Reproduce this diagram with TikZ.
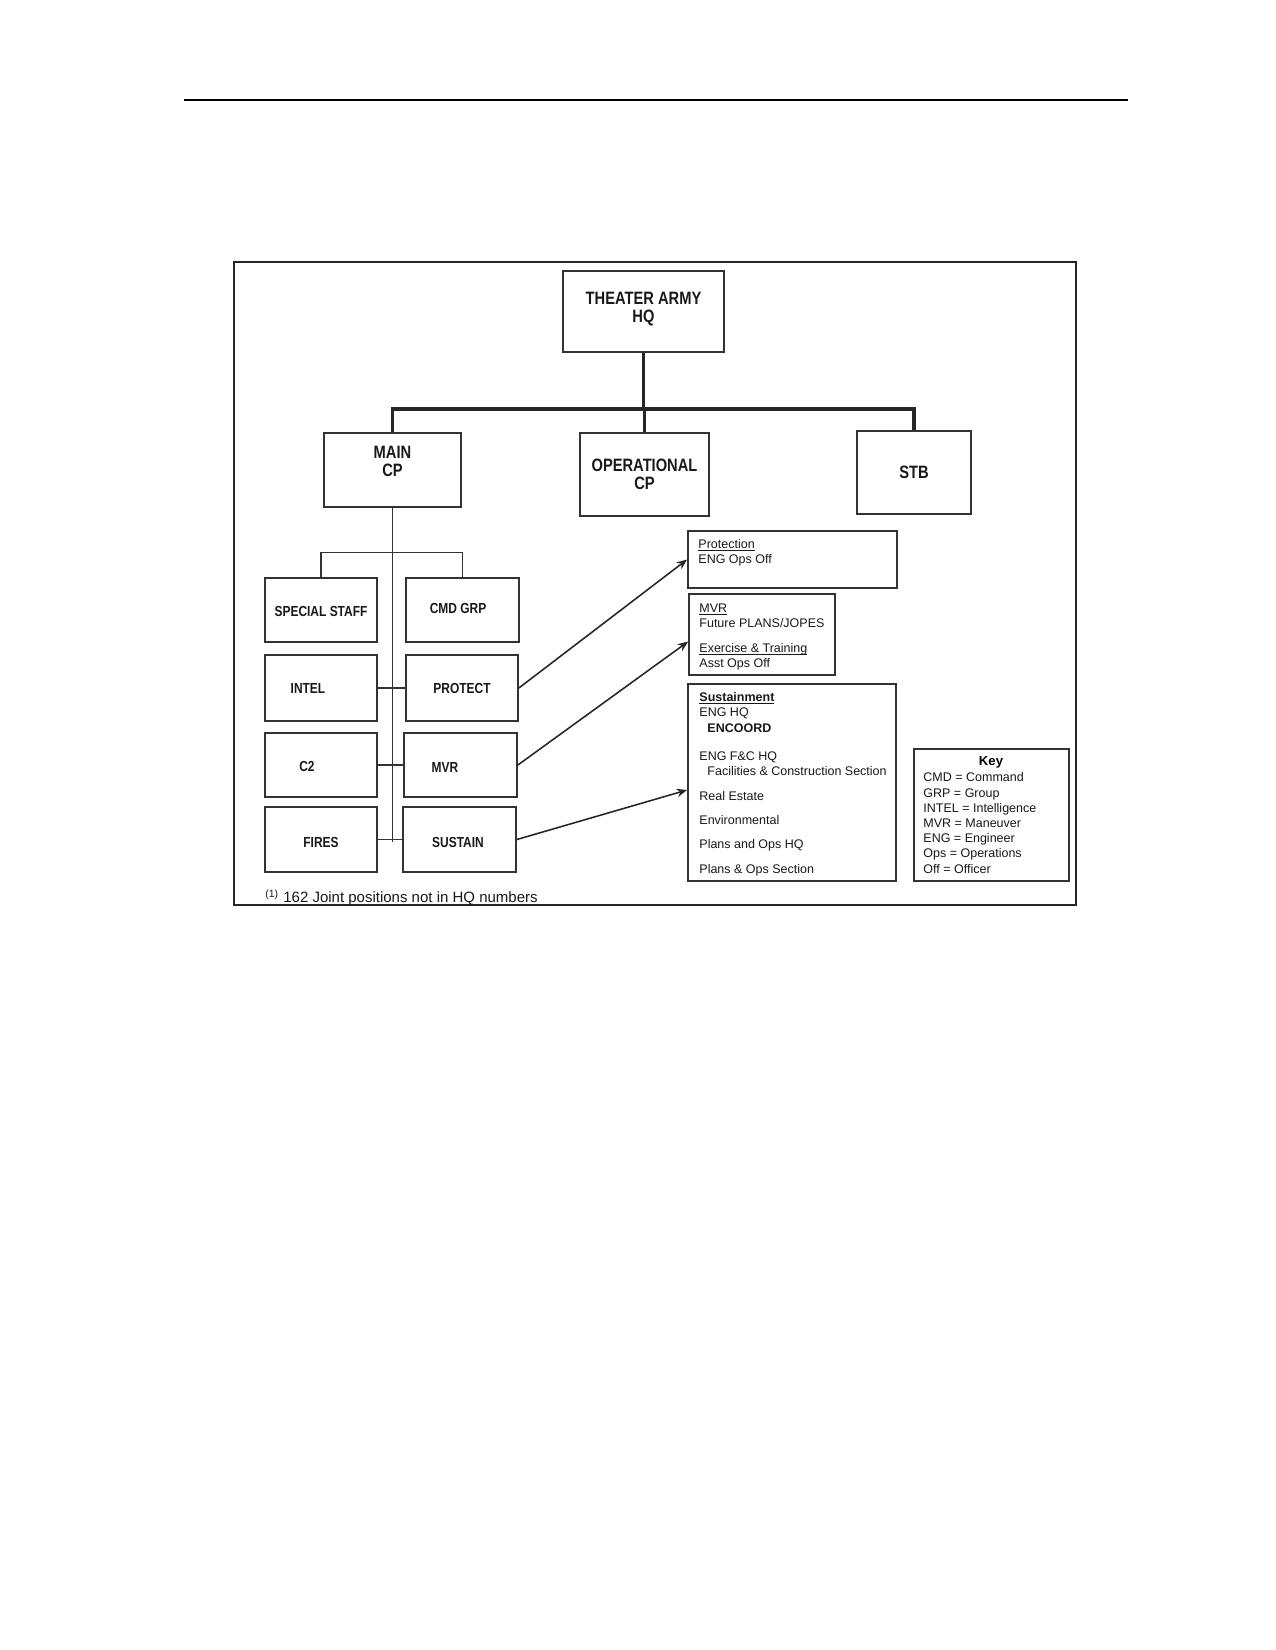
\documentclass[tikz,border=0pt]{standalone}
\usepackage{fontspec}
\setmainfont{Liberation Sans}
\newfontfamily\nrw[FakeStretch=0.82]{Liberation Sans}
\usetikzlibrary{arrows.meta,calc}
\newcommand\uln[1]{\setbox0=\hbox{#1}\rlap{\rule[-0.9pt]{\wd0}{0.4pt}}\box0}
\tikzset{
  px/.style 2 args={minimum width={#1*0.48pt}, minimum height={#2*0.48pt}},
  box/.style={draw=black!80, line width=0.85pt, rectangle, inner sep=0pt},
  bigt/.style={inner sep=0pt, align=center, font=\nrw\bfseries\fontsize{8.6}{8.7}\selectfont, text=black!90},
  midt/.style={inner sep=0pt, align=center, font=\nrw\bfseries\fontsize{7}{8}\selectfont, text=black!90},
  smt/.style={inner sep=0pt, anchor=base west, font=\fontsize{6}{7}\selectfont, text=black!90},
  bus/.style={line width=1.8pt, black!85, line join=miter},
  thin/.style={line width=0.55pt, black!80},
  arr/.style={line width=0.75pt, black!85, -{Stealth[length=5pt,width=4pt]}},
}
\begin{document}
\begin{tikzpicture}[x=0.48pt,y=-0.48pt]
\useasboundingbox (0,0) rectangle (1275,1650);
\fill[white] (0,0) rectangle (1275,1650);
% header rule
\draw[line width=1.3pt, black] (184,100) -- (1128,100);
% frame
\draw[line width=1.1pt, black!85] (234,262) rectangle (1076,905);

% top level boxes
\node[box, px={161}{81}] (hq) at (643.5,311.5) {};
\node[bigt] (hqt) at (643.5,309) {THEATER ARMY\\HQ};
\node[box, px={137}{74}] (main) at (392.5,470) {};
\node[bigt] (maint) at (392.5,461) {MAIN\\CP};
\node[box, px={129}{83}] (opcp) at (644.5,474.5) {};
\node[bigt] (opcpt) at (644.5,474) {OPERATIONAL\\CP};
\node[box, px={114}{83}] (stb) at (914,472.5) {};
\node[bigt] (stbt) at (914,472) {STB};

% bus
\coordinate (busy) at (0,409);
\draw[bus] (hq.south) -- (hq.south |- busy);
\draw[bus] (main.north) |- (stb.north |- busy) -- (stb.north);
\draw[bus] (opcp.north) -- (opcp.north |- busy);

% lower left boxes
\node[box, px={112}{64}] (sp) at (321,610) {};
\node[midt] (spt) at (321,611) {SPECIAL STAFF};
\node[box, px={113}{64}] (cmd) at (462.5,610) {};
\node[midt] (cmdt) at (458,608) {CMD GRP};
\node[box, px={112}{66}] (intel) at (321,688) {};
\node[midt] (intelt) at (308,688) {INTEL};
\node[box, px={112}{66}] (prot) at (462,688) {};
\node[midt] (prott) at (462,688) {PROTECT};
\node[box, px={112}{64}] (c2) at (321,765) {};
\node[midt] (c2t) at (307,766) {C2};
\node[box, px={113}{64}] (mvr) at (460.5,765) {};
\node[midt] (mvrt) at (445,767) {MVR};
\node[box, px={112}{65}] (fires) at (321,839.5) {};
\node[midt] (firest) at (321,842) {FIRES};
\node[box, px={113}{65}] (sust) at (459.5,839.5) {};
\node[midt] (sustt) at (458,842) {SUSTAIN};

% lower connectors
\coordinate (spineend) at (392.5,842);
\draw[thin] (main.south) -- (spineend);
\draw[thin] (sp.north) -- ++(0,-25) -| (cmd.north);
\draw[thin] (intel.east) -- (prot.west);
\draw[thin] (c2.east) -- (mvr.west);
\draw[thin] (fires.east) -- (sust.west);

% right boxes
\node[box, px={209}{57}] (pb) at (792.5,559.5) {};
\node[smt] (pb1) at (698,548.5) {\uln{Protection}};
\node[smt] (pb2) at (698,563.5) {ENG Ops Off};

\node[box, px={146}{81}] (mb) at (762,634.5) {};
\node[smt] (mb1) at (699,612.5) {\uln{MVR}};
\node[smt] (mb2) at (699,627.5) {Future PLANS/JOPES};
\node[smt] (mb3) at (699,652.5) {\uln{Exercise \& Training}};
\node[smt] (mb4) at (699,667.5) {Asst Ops Off};

\node[box, px={208}{197}] (sb) at (792,782.5) {};
\node[smt] (sb1) at (699,701.5) {\bfseries\uln{Sustainment}};
\node[smt] (sb2) at (699,716.5) {ENG HQ};
\node[smt] (sb3) at (707,732.5) {\bfseries ENCOORD};
\node[smt] (sb4) at (699,760.5) {ENG F\&C HQ};
\node[smt] (sb5) at (707,775.5) {Facilities \& Construction Section};
\node[smt] (sb6) at (699,800.5) {Real Estate};
\node[smt] (sb7) at (699,824.5) {Environmental};
\node[smt] (sb8) at (699,848.5) {Plans and Ops HQ};
\node[smt] (sb9) at (699,873.5) {Plans \& Ops Section};

\node[box, px={155}{132}] (key) at (991.5,815) {};
\node[inner sep=0pt, font=\bfseries\fontsize{6.3}{7}\selectfont] (keyt) at (991,762) {Key};
\node[smt] (k1) at (923,781.5) {CMD = Command};
\node[smt] (k2) at (923,797.5) {GRP = Group};
\node[smt] (k3) at (923,812.5) {INTEL = Intelligence};
\node[smt] (k4) at (923,827.5) {MVR = Maneuver};
\node[smt] (k5) at (923,842.5) {ENG = Engineer};
\node[smt] (k6) at (923,857.5) {Ops = Operations};
\node[smt] (k7) at (923,873.5) {Off = Officer};

% arrows
\draw[arr] (prot.east) -- (pb.west);
\draw[arr] (mvr.east) -- ([yshift=-3.4pt]mb.west);
\draw[arr] (sust.east) -- ([yshift=-3.6pt]sb.west);

% footnote
\node[inner sep=0pt, anchor=base west, font=\fontsize{7.2}{8}\selectfont, text=black!90] (fn) at (265,902)
  {\raisebox{2.2pt}{\fontsize{5}{6}\selectfont(1)}\hspace{2.5pt}162 Joint positions not in HQ numbers};
\end{tikzpicture}
\end{document}
